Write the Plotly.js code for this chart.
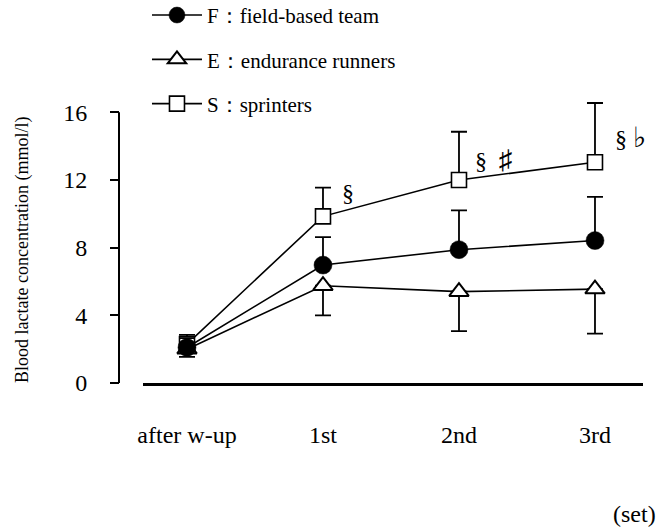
<!DOCTYPE html>
<html>
<head>
<meta charset="utf-8">
<script src="https://cdn.plot.ly/plotly-3.0.1.min.js"></script>
<style>html,body{margin:0;padding:0;background:#fff;}#chart{width:659px;height:531px;}</style>
</head>
<body>
<div id="chart"></div>
<script>
// ---- data ----
var categories = ["after w-up", "1st", "2nd", "3rd"];
var seriesNames = ["F：field-based team", "E：endurance runners", "S：sprinters"];
var fValues = [2.1, 6.97, 7.88, 8.42];
var fErrUp  = [0.55, 1.65, 2.32, 2.58];
var eValues = [2.0, 5.75, 5.4, 5.55];
var eErrDown = [0.45, 1.75, 2.33, 2.63];
var sValues = [2.3, 9.85, 12.0, 13.05];
var sErrUp  = [0.55, 1.7, 2.85, 3.5];
var yTicks = [0, 4, 8, 12, 16];
var sigLabels = ["", "§",
  "§\u2002<span style=\"font-size:27px;color:#000000\">♯</span>",
  "§ <span style=\"font-size:28px;color:#000000\">♭</span>"];
var sigHeights = [0, 11.24, 13.2, 14.5];
var xUnit = "(set)";
var yTitle = "Blood lactate concentration (mmol/l)";

var serif = "Liberation Serif, Times New Roman, serif";
var zeros = [0, 0, 0, 0];
var yTop = yTicks[yTicks.length - 1];

var fTrace = {
  x: categories, y: fValues, name: seriesNames[0], type: "scatter", mode: "lines+markers",
  legendgroup: "F", legendrank: 1,
  line: {color: "#000", width: 1.6},
  marker: {symbol: "circle", size: 18, color: "#000", line: {color: "#000", width: 0.5}},
  error_y: {type: "data", symmetric: false, array: fErrUp, arrayminus: zeros, color: "#000", thickness: 1.8, width: 8}
};
var eTrace = {
  x: categories, y: eValues, name: seriesNames[1], type: "scatter", mode: "lines+markers",
  legendgroup: "E", legendrank: 2,
  line: {color: "#000", width: 1.6},
  marker: {symbol: "triangle-up", size: 17, color: "#fff", line: {color: "#000", width: 2}},
  error_y: {type: "data", symmetric: false, array: zeros, arrayminus: eErrDown, color: "#000", thickness: 1.8, width: 8}
};
var sTrace = {
  x: categories, y: sValues, name: seriesNames[2], type: "scatter", mode: "lines+markers",
  legendgroup: "S", legendrank: 3,
  line: {color: "#000", width: 1.6},
  marker: {symbol: "square", size: 15, color: "#fff", line: {color: "#000", width: 1.6}},
  error_y: {type: "data", symmetric: false, array: sErrUp, arrayminus: zeros, color: "#000", thickness: 1.8, width: 8}
};

var annotations = [];
var sigShift = [0, 17, 14, 18];
for (var i = 1; i < categories.length; i++) {
  annotations.push({
    x: categories[i], y: sigHeights[i], xref: "x", yref: "y", text: sigLabels[i],
    showarrow: false, xanchor: "left", yanchor: "middle", xshift: sigShift[i],
    font: {family: serif, size: 24, color: "#000"}
  });
}
// unit label of the x axis
annotations.push({
  x: 1, y: 0, xref: "paper", yref: "paper", text: xUnit, showarrow: false,
  xanchor: "right", yanchor: "middle", xshift: 15, yshift: -131,
  font: {family: serif, size: 24, color: "#000"}
});
// y axis title, centred on the 0-16 span of the axis
annotations.push({
  x: 0, y: 7.86, xref: "paper", yref: "y", text: yTitle, showarrow: false,
  textangle: -90, xanchor: "center", yanchor: "middle", xshift: -97,
  font: {family: serif, size: 18, color: "#000"}
});

var layout = {
  width: 659, height: 531,
  margin: {l: 119, r: 16, t: 92.45, b: 148.3, autoexpand: false},
  paper_bgcolor: "#fff", plot_bgcolor: "#fff",
  font: {family: serif, color: "#000"},
  showlegend: true,
  legend: {
    x: 0.0534, y: 1.3337, xanchor: "left", yanchor: "top",
    tracegroupgap: 14, itemwidth: 50,
    font: {family: serif, size: 21, color: "#000"},
    bgcolor: "rgba(0,0,0,0)"
  },
  xaxis: {
    type: "category", domain: [0.0458, 1], range: [-0.3235, 3.353], anchor: "y",
    showline: true, linewidth: 3, linecolor: "#000", ticks: "", showgrid: false, zeroline: false,
    ticklabelstandoff: 28,
    tickfont: {family: serif, size: 24, color: "#000"}
  },
  yaxis: {
    range: [0, 17.2], anchor: "free", position: 0,
    showline: false, showgrid: false, zeroline: false,
    tickmode: "array", tickvals: yTicks, ticktext: yTicks.map(String),
    ticks: "outside", ticklen: 9, tickwidth: 2, tickcolor: "#000",
    ticklabelstandoff: 18,
    tickfont: {family: serif, size: 24, color: "#000"}
  },
  shapes: [{
    type: "line", xref: "paper", yref: "y", x0: 0, x1: 0, y0: 0, y1: yTop,
    line: {color: "#000", width: 2}
  }],
  annotations: annotations
};

// draw order: E, S, then F on top (legend order kept by legendrank)
Plotly.newPlot("chart", [eTrace, sTrace, fTrace], layout, {displayModeBar: false, staticPlot: true});
</script>
</body>
</html>
